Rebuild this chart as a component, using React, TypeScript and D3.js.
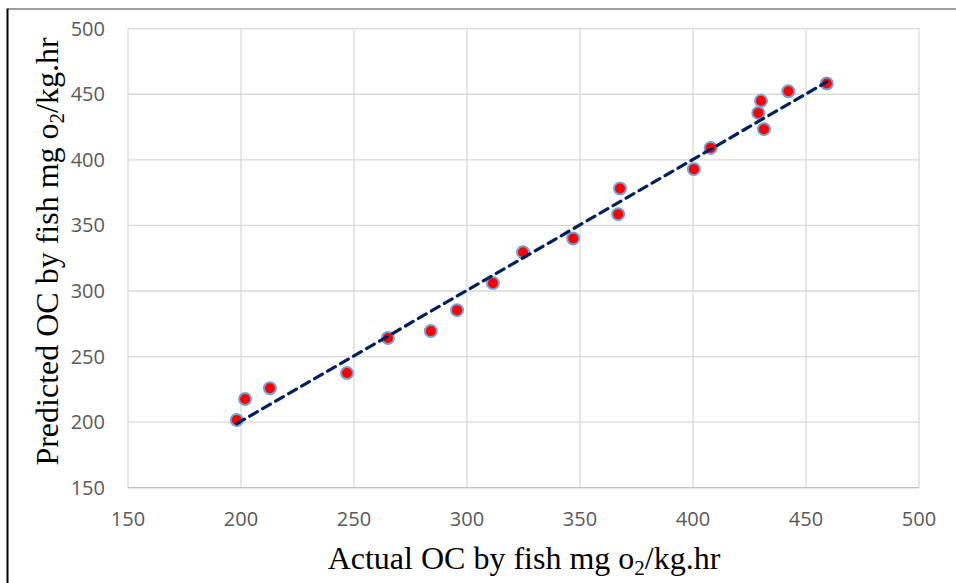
import * as d3 from 'd3'

const actual = [198.1, 201.8, 212.8, 246.9, 265.0, 284.0, 295.6, 311.5, 324.8, 347.0, 366.9, 367.7, 400.4, 407.8, 428.9, 430.1, 431.4, 442.2, 459.2]
const predicted = [201.6, 217.6, 225.8, 237.4, 264.1, 269.4, 285.4, 306.0, 329.6, 340.0, 358.6, 378.2, 392.9, 409.1, 435.8, 445.0, 423.4, 452.3, 458.2]
const xTicks = [150, 200, 250, 300, 350, 400, 450, 500]
const yTicks = [150, 200, 250, 300, 350, 400, 450, 500]

const width = 956
const height = 583
const plot = { left: 128, right: 919, top: 28.7, bottom: 487.7 }

export default function App() {
  const x = d3.scaleLinear().domain([150, 500]).range([plot.left, plot.right])
  const y = d3.scaleLinear().domain([150, 500]).range([plot.bottom, plot.top])

  // linear trendline (least squares), spanning the data like Excel does
  const mx = d3.mean(actual) as number
  const my = d3.mean(predicted) as number
  const sxy = d3.sum(actual, (v, i) => (v - mx) * (predicted[i] - my))
  const sxx = d3.sum(actual, v => (v - mx) * (v - mx))
  const slope = sxy / sxx
  const icpt = my - slope * mx
  const [x0, x1] = d3.extent(actual) as [number, number]
  const trend: [number, number][] = [[x0, icpt + slope * x0], [x1, icpt + slope * x1]]
  const line = d3.line<[number, number]>().x(d => x(d[0])).y(d => y(d[1]))

  const pts = actual.map((v, i) => [v, predicted[i]] as [number, number])

  return (
    <svg width={width} height={height} style={{ position: 'absolute', left: 0, top: 0, background: '#fff' }}>
      <line x1={8} x2={width} y1={9} y2={9} stroke="#404040" strokeWidth={1} />
      <line x1={7.5} x2={7.5} y1={8.5} y2={height} stroke="#000" strokeWidth={2} />

      {xTicks.map(t => (
        <line key={'gx' + t} x1={x(t)} x2={x(t)} y1={plot.top} y2={plot.bottom} stroke="#d9d9d9" strokeWidth={1.3} />
      ))}
      {yTicks.map(t => (
        <line key={'gy' + t} x1={plot.left} x2={plot.right} y1={y(t)} y2={y(t)} stroke="#d9d9d9" strokeWidth={1.3} />
      ))}
      <line x1={plot.left} x2={plot.right} y1={plot.bottom} y2={plot.bottom} stroke="#bfbfbf" strokeWidth={1.3} />

      {xTicks.map(t => (
        <text key={'tx' + t} x={x(t)} y={526} textAnchor="middle" fontFamily="Open Sans" fontSize={20} fill="#595959">{t}</text>
      ))}
      {yTicks.map(t => (
        <text key={'ty' + t} x={105} y={y(t) + 7} textAnchor="end" fontFamily="Open Sans" fontSize={20} fill="#595959">{t}</text>
      ))}

      {pts.map((p, i) => (
        <circle key={i} cx={x(p[0])} cy={y(p[1])} r={6} fill="#ff0000" stroke="#72a3d8" strokeWidth={2} />
      ))}

      <path d={line(trend) ?? ''} fill="none" stroke="#002060" strokeWidth={3.2} strokeDasharray="9,6" strokeLinecap="round" />

      <text x={524} y={569} textAnchor="middle" fontFamily="Liberation Serif" fontSize={32} fill="#000">
        Actual OC by fish mg o<tspan fontSize={21} dy={6}>2</tspan><tspan dy={-6}>/kg.hr</tspan>
      </text>
      <text transform="translate(58,251.5) rotate(-90)" textAnchor="middle" fontFamily="Liberation Serif" fontSize={32} fill="#000">
        Predicted OC by fish mg o<tspan fontSize={21} dy={6}>2</tspan><tspan dy={-6}>/kg.hr</tspan>
      </text>
    </svg>
  )
}
